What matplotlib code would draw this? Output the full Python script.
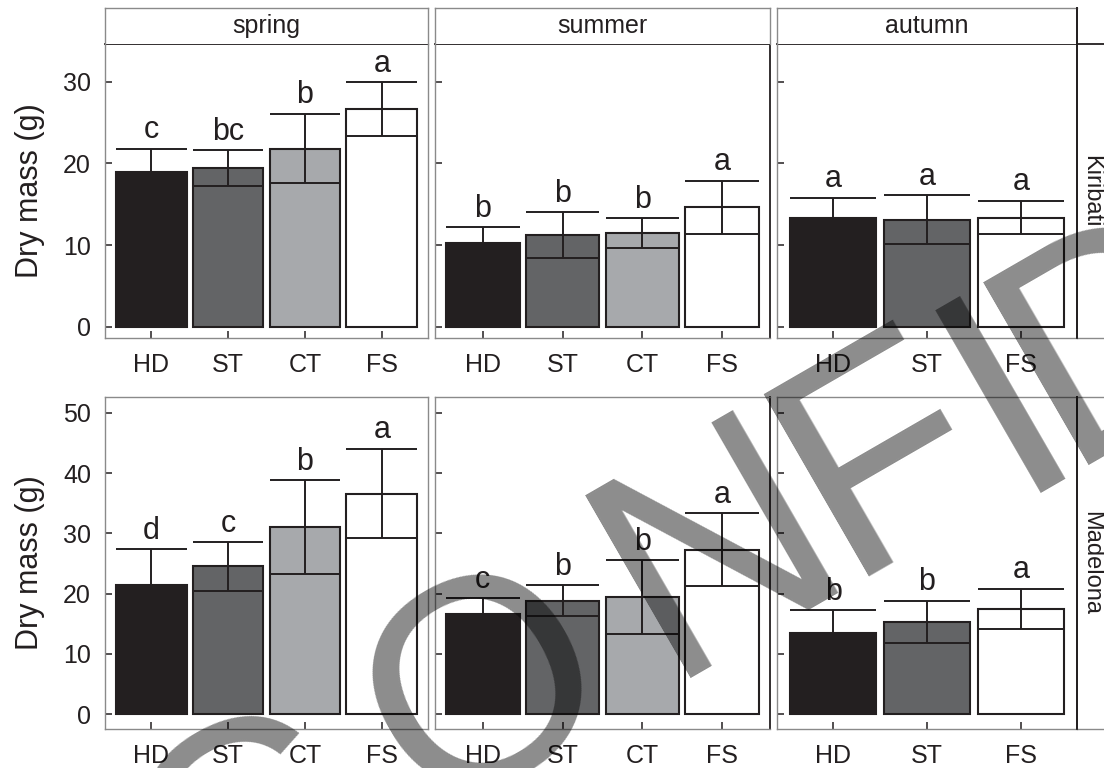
import math
import matplotlib
matplotlib.use("Agg")
import matplotlib.pyplot as plt
from matplotlib.lines import Line2D

plt.rcParams["font.family"] = ["Liberation Sans", "DejaVu Sans"]

# ---- data -------------------------------------------------------------
seasons = ["spring", "summer", "autumn"]
sites = ["Kiribati", "Madelona"]

treat_spring = ["HD", "ST", "CT", "FS"]
treat_summer = ["HD", "ST", "CT", "FS"]
treat_autumn = ["HD", "ST", "FS"]

kir_spring_mean = [18.9, 19.4, 21.8, 26.6]
kir_spring_sd = [2.9, 2.2, 4.25, 3.3]
kir_spring_letters = ["c", "bc", "b", "a"]

kir_summer_mean = [10.2, 11.2, 11.45, 14.6]
kir_summer_sd = [1.95, 2.85, 1.85, 3.25]
kir_summer_letters = ["b", "b", "b", "a"]

kir_autumn_mean = [13.35, 13.1, 13.35]
kir_autumn_sd = [2.45, 3.0, 2.05]
kir_autumn_letters = ["a", "a", "a"]

mad_spring_mean = [21.4, 24.5, 31.0, 36.6]
mad_spring_sd = [6.0, 4.0, 7.8, 7.4]
mad_spring_letters = ["d", "c", "b", "a"]

mad_summer_mean = [16.6, 18.8, 19.4, 27.3]
mad_summer_sd = [2.65, 2.55, 6.1, 6.0]
mad_summer_letters = ["c", "b", "b", "a"]

mad_autumn_mean = [13.5, 15.3, 17.45]
mad_autumn_sd = [3.8, 3.55, 3.35]
mad_autumn_letters = ["b", "b", "a"]

kir_yticks = [0, 10, 20, 30]
mad_yticks = [0, 10, 20, 30, 40, 50]

fill = {"HD": "#231f20", "ST": "#636466", "CT": "#a7a9ac", "FS": "#ffffff"}
ink = "#231f20"
frame = "#8a8a8a"

# ---- layout (pixel boxes) --------------------------------------------
W, H = 1104, 768
fig = plt.figure(figsize=(W / 100, H / 100), dpi=100)


def box(x0, y0, x1, y1):
    return [x0 / W, 1 - y1 / H, (x1 - x0) / W, (y1 - y0) / H]


cols = [(105, 428), (435, 770), (777, 1077)]
rows = [(44, 338), (397, 729)]
ylims = [(-1.38, 34.6), (-2.44, 52.6)]

panels = [
    [(treat_spring, kir_spring_mean, kir_spring_sd, kir_spring_letters),
     (treat_summer, kir_summer_mean, kir_summer_sd, kir_summer_letters),
     (treat_autumn, kir_autumn_mean, kir_autumn_sd, kir_autumn_letters)],
    [(treat_spring, mad_spring_mean, mad_spring_sd, mad_spring_letters),
     (treat_summer, mad_summer_mean, mad_summer_sd, mad_summer_letters),
     (treat_autumn, mad_autumn_mean, mad_autumn_sd, mad_autumn_letters)],
]
row_ticks = [kir_yticks, mad_yticks]

bw = 0.92
for r, (y0, y1) in enumerate(rows):
    for c, (x0, x1) in enumerate(cols):
        labels, means, sds, letters = panels[r][c]
        ax = fig.add_axes(box(x0, y0, x1, y1))
        xs = list(range(1, len(labels) + 1))
        ax.bar(xs, means, width=bw, color=[fill[t] for t in labels],
               edgecolor=ink, linewidth=1.5, zorder=2)
        lo = [m - s for m, s in zip(means, sds)]
        hi = [m + s for m, s in zip(means, sds)]
        ax.vlines(xs, lo, hi, color=ink, linewidth=1.4, zorder=3)
        ax.hlines(hi, [x - bw / 2 for x in xs], [x + bw / 2 for x in xs],
                  color=ink, linewidth=1.4, zorder=3)
        ax.hlines(lo, [x - bw / 2 for x in xs], [x + bw / 2 for x in xs],
                  color=ink, linewidth=1.4, zorder=3)
        for x, top, lab in zip(xs, hi, letters):
            ax.annotate(lab, (x, top), xytext=(0, 7.5), textcoords="offset points",
                        ha="center", va="baseline", fontsize=22, color=ink,
                        zorder=4)
        ax.set_xlim(0.4, len(labels) + 0.6)
        ax.set_ylim(*ylims[r])
        ax.set_xticks(xs)
        ax.set_xticklabels(labels)
        ax.set_yticks(row_ticks[r])
        ax.tick_params(axis="both", direction="in", length=5, width=1.1,
                       color=ink, labelsize=18, labelcolor=ink)
        ax.tick_params(axis="x", pad=11)
        ax.tick_params(axis="y", pad=10)
        if c > 0:
            ax.set_yticklabels([])
        for sp in ax.spines.values():
            sp.set_color(frame)
            sp.set_linewidth(1.0)
        if c >= 1:
            ax.spines["right"].set_color(ink)
            ax.spines["right"].set_linewidth(1.3)
        if r == 0:
            ax.spines["top"].set_color(ink)
            ax.spines["top"].set_linewidth(1.3)

    fig.text(30 / W, 1 - ((y0 + y1) / 2) / H, "Dry mass (g)", rotation=90,
             ha="center", va="center", fontsize=22, color=ink)
    fig.text(1085 / W, 1 - ((y0 + y1) / 2) / H, sites[r], rotation=-90,
             rotation_mode="anchor", ha="center", va="baseline",
             fontsize=17, color=ink)

# season strips above the top row
for c, (x0, x1) in enumerate(cols):
    sax = fig.add_axes(box(x0, 8, x1, 44))
    sax.set_xticks([])
    sax.set_yticks([])
    for sp in sax.spines.values():
        sp.set_color(frame)
        sp.set_linewidth(1.0)
    sax.spines["bottom"].set_visible(False)
    if c == 2:
        sax.spines["right"].set_color(ink)
        sax.spines["right"].set_linewidth(1.3)
    sax.text(0.5, 0.5, seasons[c], ha="center", va="center", fontsize=18,
             color=ink, transform=sax.transAxes)


# site strip borders on the right
def hline_px(y, xa, xb, color, lw):
    fig.add_artist(Line2D([xa / W, xb / W], [1 - y / H, 1 - y / H],
                          color=color, linewidth=lw))


def vline_px(x, ya, yb, color, lw):
    fig.add_artist(Line2D([x / W, x / W], [1 - ya / H, 1 - yb / H],
                          color=color, linewidth=lw))


hline_px(44, 1077, 1104, ink, 1.3)
hline_px(338, 1077, 1104, frame, 1.0)
hline_px(397, 1077, 1104, frame, 1.0)
hline_px(729, 1077, 1104, frame, 1.0)
vline_px(1077, 8, 338, ink, 1.3)
vline_px(1077, 397, 729, ink, 1.3)

# diagonal stamp across the figure, one glyph at a time
stamp_letters = ["C", "O", "N", "F", "I", "D"]
stamp_centres = [(240, 820), (474, 670), (707, 528), (870, 435),
                 (995, 377), (1105, 315)]
stamp_sizes = [220, 212, 220, 220, 220, 220]   # points
stamp_angle = 30
ux, uy = -math.sin(math.radians(stamp_angle)), -math.cos(math.radians(stamp_angle))
for ch, (cx, cy), size in zip(stamp_letters, stamp_centres, stamp_sizes):
    cap_px = 0.716 * size * 100 / 72
    bx = cx - ux * cap_px / 2
    by = cy - uy * cap_px / 2
    fig.text(bx / W, 1 - by / H, ch, fontsize=size, rotation=stamp_angle,
             rotation_mode="anchor", ha="center", va="baseline",
             color="black", alpha=0.45, zorder=100)

fig.savefig("out.png", dpi=100)
